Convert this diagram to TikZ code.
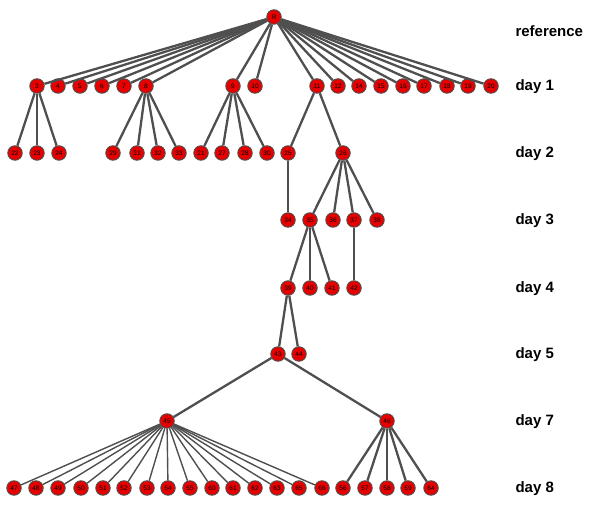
\documentclass[tikz,border=0pt]{standalone}
\usepackage{fontspec}
\setmainfont{Liberation Sans}
\usepackage{xcolor}
\definecolor{edgegray}{HTML}{4F4F4F}
\definecolor{vertred}{HTML}{E60000}
\tikzset{vert/.style={circle,draw=edgegray,fill=vertred,line width=0.9pt,minimum size=14.5pt,inner sep=0pt,font=\fontsize{6.5}{6.5}\selectfont}}
\tikzset{edge/.style={draw=edgegray,line width=2.3pt}}
\tikzset{daylab/.style={anchor=west,font=\fontsize{15}{18}\selectfont\bfseries}}

\begin{document}
\begin{tikzpicture}[x=1pt,y=-1pt]
            \useasboundingbox (0,0) rectangle (597,510);
            % draw the day labels
            \node[daylab] (lref) at (512,31) {reference};
            \foreach \d/\y in {1/87,2/154,3/221,4/289,5/355,7/422,8/489}
                \node[daylab] (lday\d) at (512,\y) {day \d};
            % draw the vertices (row by row)
            \node[vert] (r) at (274,17) {R};
            \foreach \n/\x in {3/37,4/58,5/80,6/102,7/124,8/146,9/233,10/255,11/317,12/338,14/359,15/381,16/403,17/424,18/447,19/468,20/491}
                \node[vert] (v\n) at (\x,86) {\n};
            \foreach \n/\x in {22/15,23/37,24/59,29/113,31/137,32/158,33/179,21/201,27/222,28/245,30/267,25/288,26/343}
                \node[vert] (v\n) at (\x,153) {\n};
            \foreach \n/\x in {34/288,35/310,36/333,37/354,38/377}
                \node[vert] (v\n) at (\x,220) {\n};
            \foreach \n/\x in {39/288,40/310,41/332,42/354}
                \node[vert] (v\n) at (\x,288) {\n};
            \node[vert] (v43) at (278,354) {43};
            \node[vert] (v44) at (299,354) {44};
            \node[vert] (v45) at (167,421) {45};
            \node[vert] (v46) at (387,421) {46};
            \foreach \n/\x in {47/14,48/36,49/58,50/81,51/103,52/124,53/147,54/168,55/190,60/212,61/233,62/255,63/277,65/299,66/322,56/343,57/365,58/387,59/408,64/431}
                \node[vert] (v\n) at (\x,488) {\n};
            % draw the edges (parent -- child)
            \foreach \n in {3,4,5,6,7,8,9,10,11,12,14,15,16,17,18,19,20}
                \draw[edge] (r) -- (v\n);
            \foreach \p/\c in {3/22,3/23,3/24,8/29,8/31,8/32,8/33,9/21,9/27,9/28,9/30,11/25,11/26,
                               25/34,26/35,26/36,26/37,26/38,35/39,35/40,35/41,37/42,39/43,39/44,43/45,43/46}
                \draw[edge] (v\p) -- (v\c);
            \foreach \c in {47,48,49,50,51,52,53,54,55,60,61,62,63,65,66}
                \draw[edge,line width=1.4pt] (v45) -- (v\c);
            \foreach \c in {56,57,58,59,64}
                \draw[edge] (v46) -- (v\c);
        \end{tikzpicture}
\end{document}
